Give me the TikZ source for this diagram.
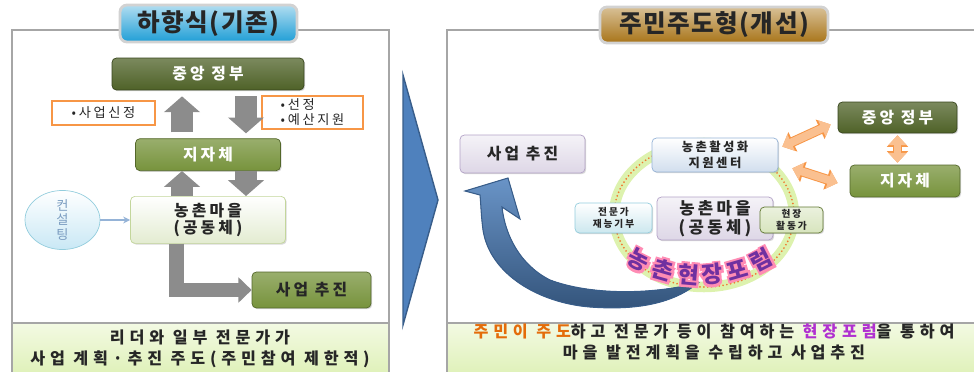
\documentclass[tikz,border=0pt]{standalone}
\usepackage{fontspec}
\setmainfont{Noto Sans CJK KR}[LetterSpace=20]
\usetikzlibrary{positioning, shapes.geometric, arrows.meta, calc, shadows}

\definecolor{govgreen}{HTML}{4F6228}
\definecolor{localgreen}{HTML}{77933C}
\definecolor{villagegreen}{HTML}{EBF1DE}
\definecolor{villageline}{HTML}{C3D69B}
\definecolor{bandtop}{HTML}{F3FAE3}
\definecolor{bandbottom}{HTML}{DDF0B4}
\definecolor{framegray}{HTML}{A6A6A6}
\definecolor{blockgray}{HTML}{8C8C8C}
\definecolor{notered}{HTML}{F79646}
\definecolor{lilac}{HTML}{E5E0EC}
\definecolor{lilacline}{HTML}{B3A2C7}
\definecolor{paleblue}{HTML}{DCE6F2}
\definecolor{paleblueline}{HTML}{95B3D7}
\definecolor{palecyan}{HTML}{DAEEF3}
\definecolor{palecyanline}{HTML}{93CDDD}
\definecolor{paleolive}{HTML}{D7E4BD}
\definecolor{peach}{HTML}{FAC090}
\definecolor{chevronblue}{HTML}{4F81BD}
\definecolor{chevronline}{HTML}{385D8A}
\definecolor{forumpurple}{HTML}{7030A0}
\definecolor{forumglow}{HTML}{FF8CB4}
\definecolor{leadorange}{HTML}{E46C0A}
\definecolor{forummagenta}{HTML}{B030D0}
\definecolor{tabblue}{HTML}{1F9ED6}
\definecolor{tabgold}{HTML}{A87418}
\definecolor{consultblue}{HTML}{C9E8F5}
\definecolor{consulttext}{HTML}{7A9CC0}
\definecolor{ringgreen}{HTML}{DDF2AE}
\definecolor{ringdots}{HTML}{F07830}
\definecolor{inktext}{HTML}{262626}

% purple letter over a pink outline
\newcommand{\glowletter}[1]{\rlap{\textcolor{forumglow}{\special{pdf:literal direct 2 Tr 2.6 w}#1\special{pdf:literal direct 0 Tr 0.4 w}}}#1}

\begin{document}
\begin{tikzpicture}[
    x=0.02cm, y=-0.02cm,
    box/.style={rounded corners=2.5pt, inner sep=0pt, align=center,
        drop shadow={opacity=0.3, shadow xshift=0.7pt, shadow yshift=-0.7pt}},
    govbox/.style={box, draw=govgreen!70!black, top color=govgreen!75!white, bottom color=govgreen,
        text=white, font=\fontsize{9}{11}\selectfont\bfseries},
    localbox/.style={box, draw=localgreen!70!black, top color=localgreen!75!white, bottom color=localgreen,
        text=white, font=\fontsize{9}{11}\selectfont\bfseries},
    villagebox/.style={box, draw=villageline, top color=white, bottom color=villagegreen!80!villageline,
        text=inktext, font=\fontsize{9}{10}\selectfont\bfseries},
    lilacbox/.style={box, draw=lilacline, top color=lilac!40!white, bottom color=lilac!85!lilacline,
        text=inktext, font=\fontsize{9}{11}\selectfont\bfseries},
    smallbox/.style={box, text=inktext, font=\fontsize{5.5}{6.5}\selectfont\bfseries},
    notebox/.style={draw=notered, line width=1.1pt, fill=white, inner sep=0pt, align=left,
        text=inktext, font=\fontsize{7.5}{8.5}\selectfont},
    tab/.style={rounded corners=4pt, draw=gray!35, line width=1.6pt, inner sep=0pt,
        text=inktext, font=\fontsize{14}{15}\selectfont\bfseries\addfontfeature{LetterSpace=6}},
    bandtext/.style={align=center, text=inktext,
        font=\fontsize{9.2}{11.8}\selectfont\bfseries\addfontfeature{LetterSpace=30}},
    blockarrow/.style={draw=blockgray, line width=12pt, line join=miter,
        -{Triangle[width=20pt,length=9pt]}},
    peacharrow/.style={draw=peach, line width=4.5pt,
        {Triangle[width=10pt,length=5.5pt]}-{Triangle[width=10pt,length=5.5pt]},
        preaction={draw=notered, line width=5.6pt,
            {Triangle[width=11.8pt,length=6.6pt]}-{Triangle[width=11.8pt,length=6.6pt]}}},
    forumtext/.style={text=forumpurple, font=\fontsize{13}{14}\selectfont\bfseries, inner sep=0pt}
]
    \clip (0,0) rectangle (974,372);

    % Frames
    \draw[framegray, line width=1pt] (12,30) rectangle (389,380);
    \draw[framegray, line width=1pt, top color=bandtop, bottom color=bandbottom] (12,323) rectangle (389,380);
    \draw[framegray, line width=1pt] (447,30) rectangle (990,380);
    \draw[framegray, line width=1pt, top color=bandtop, bottom color=bandbottom] (447,323) rectangle (990,380);

    % Titles
    \node[tab, top color=tabblue!35!white, bottom color=tabblue, minimum width=3.54cm, minimum height=0.74cm]
        (titleL) at (208.5,23.5) {하향식(기존)};
    \node[tab, top color=tabgold!45!white, bottom color=tabgold, minimum width=4.56cm, minimum height=0.72cm]
        (titleR) at (714,25) {주민주도형(개선)};

    % Top-down model
    \node[govbox, minimum width=3.84cm, minimum height=0.64cm] (govL) at (208,74) {중앙 정부};
    \node[localbox, minimum width=2.9cm, minimum height=0.64cm, below=0.96cm of govL] (jijiL) {지자체};
    \node[villagebox, minimum width=3.1cm, minimum height=0.94cm, below=0.5cm of jijiL] (villageL) {농촌마을\\(공동체)};
    \node[localbox, text=inktext, minimum width=2.38cm, minimum height=0.72cm] (bizL) at (311.5,290) {사업 추진};
    \node[notebox, minimum width=2.06cm, minimum height=0.48cm, align=center] (apply) at (103.5,113) {•사업신정};
    \node[notebox, minimum width=2.02cm, minimum height=0.66cm] (select) at (312.5,112.5) {•선정\\•예산지원};
    \node[ellipse, draw=palecyanline, top color=white, bottom color=consultblue, inner sep=0pt,
        minimum width=1.5cm, minimum height=1.08cm, align=center, text=consulttext,
        font=\fontsize{7.5}{8.5}\selectfont] (consult) at (62.5,220) {컨\\설\\팅};

    \draw[blockarrow, shorten <=0.12cm, shorten >=0.12cm] ([xshift=-0.52cm]jijiL.north) -- ([xshift=-0.52cm]govL.south);
    \draw[blockarrow, shorten <=0.12cm, shorten >=0.1cm] ([xshift=0.76cm]govL.south) -- ([xshift=0.76cm]jijiL.north);
    \draw[blockarrow] ([xshift=-0.52cm]villageL.north) -- ([xshift=-0.52cm]jijiL.south);
    \draw[blockarrow] ([xshift=0.76cm]jijiL.south) -- ([xshift=0.76cm]villageL.north);
    \draw[blockarrow, line width=8.5pt, -{Triangle[width=14pt,length=7.5pt]}]
        ([xshift=-0.63cm]villageL.south) |- (bizL.west);
    \draw[paleblueline, line width=0.6pt, -{Stealth[length=4pt,width=4pt]}]
        (consult.east) -- (consult.east -| villageL.west);

    \node[bandtext] (noteL) at (200,349) {리더와 일부 전문가가\\사업 계획·추진 주도(주민참여 제한적)};

    % Chevron
    \filldraw[fill=chevronblue, draw=chevronline, line width=0.8pt] (403,75) -- (438,200) -- (403,325) -- cycle;

    % Resident-led model
    \draw[ringgreen, line width=6pt] (704,215) ellipse [x radius=1.8cm, y radius=1.44cm];
    \draw[ringdots, line width=1.1pt, dash pattern=on 0pt off 2.2pt, line cap=round]
        (704,215) ellipse [x radius=1.8cm, y radius=1.44cm];

    \filldraw[top color=chevronblue!85!white, bottom color=chevronblue!65!black, draw=chevronline, line width=0.6pt]
        (698,283) .. controls (670,306) and (630,310) .. (590,307)
        .. controls (540,303) and (490,275) .. (483,230)
        .. controls (481,215) and (481,205) .. (480,195)
        -- (465,191) -- (508,178) -- (520,219) -- (502,207)
        .. controls (505,235) and (520,265) .. (550,280)
        .. controls (590,295) and (650,295) .. (698,283) -- cycle;

    \node[lilacbox, minimum width=2.5cm, minimum height=0.76cm] (bizR) at (522.5,154) {사업 추진};
    \node[smallbox, draw=paleblueline, top color=white, bottom color=paleblue!85!paleblueline,
        minimum width=2.52cm, minimum height=0.68cm, font=\fontsize{7}{9}\selectfont\bfseries]
        (center) at (715,155) {농촌활성화\\지원센터};
    \node[lilacbox, minimum width=2.32cm, minimum height=0.86cm, font=\fontsize{9.5}{10.5}\selectfont\bfseries]
        (villageR) at (715,218.5) {농촌마을\\(공동체)};
    \node[smallbox, draw=palecyanline, top color=white, bottom color=palecyan!80!palecyanline,
        minimum width=1.54cm, minimum height=0.6cm] (expert) at (613.5,218) {전문가\\재능기부};
    \node[smallbox, draw=localgreen!80!black, top color=paleolive!50!white, bottom color=paleolive,
        minimum width=1.26cm, minimum height=0.52cm] (field) at (791.5,220) {현장\\활동가};
    \node[govbox, minimum width=2.38cm, minimum height=0.62cm] (govR) at (897.5,117.5) {중앙 정부};
    \node[localbox, minimum width=2.2cm, minimum height=0.64cm] (jijiR) at (905,181) {지자체};

    \draw[peacharrow] ([shift={(4,9)}]center.north east) -- ([shift={(-7,7)}]govR.west);
    \draw[peacharrow] ([shift={(14,-4)}]center.south east) -- ([shift={(-12,2)}]jijiR.west);
    \draw[peacharrow] ([yshift=-0.04cm]govR.south) -- ([yshift=0.04cm]govR.south |- jijiR.north);

    % Forum label
    \foreach \ch/\a [count=\i] in {농/-27,촌/-16,현/-5,장/5,포/16,럼/27}
        \node[forumtext, rotate=\a] (forum\i) at ({700+135*sin(\a)}, {140+135*cos(\a)}) {\glowletter{\ch}};

    \node[bandtext] (noteR) at (714,342)
        {\textcolor{leadorange}{주민이 주도}하고 전문가 등이 참여하는 \textcolor{forummagenta}{현장포럼}을 통하여\\마을 발전계획을 수립하고 사업추진};
\end{tikzpicture}
\end{document}
